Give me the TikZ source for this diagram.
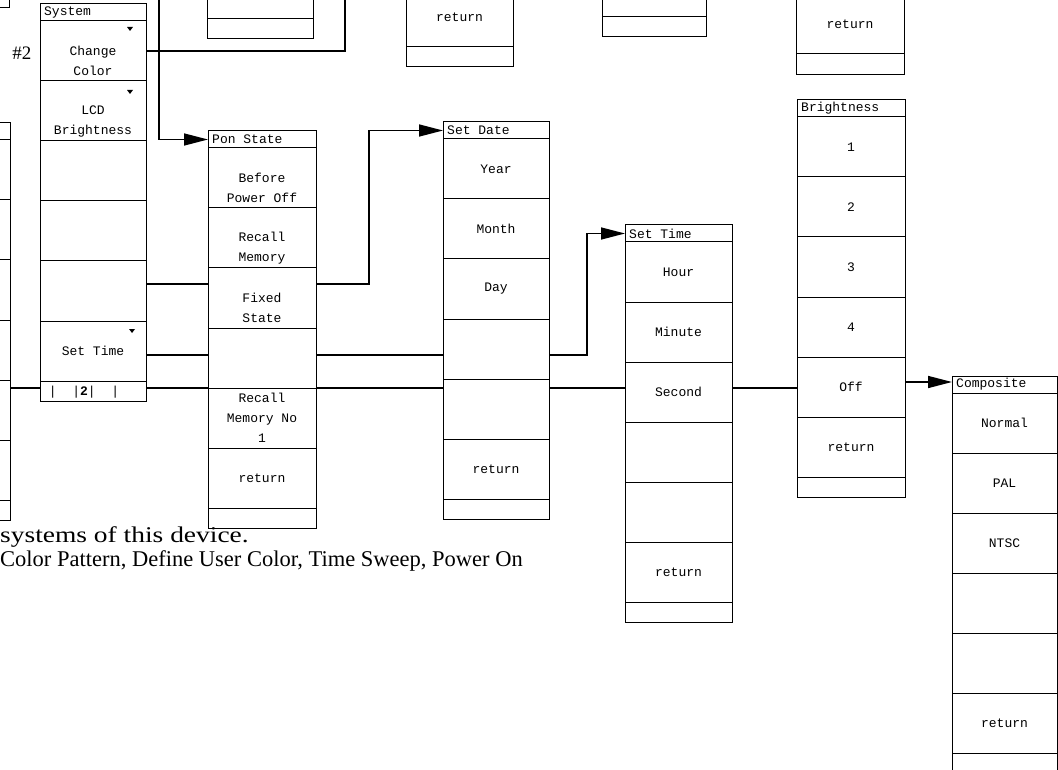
\documentclass[tikz,border=0pt]{standalone}
\usepackage{fontspec}
\usepackage{graphicx}
\setmainfont{Liberation Serif}
\setmonofont{Liberation Mono}
\usetikzlibrary{arrows.meta}
\newcommand\mfont{\fontsize{13}{20}\selectfont\ttfamily}
\tikzset{
  box/.style={draw, line width=1pt, inner sep=0pt, outer sep=0pt, anchor=north west},
  cell/.style={box, minimum width=#1, minimum height=60pt},
  foot/.style={box, minimum width=#1, minimum height=20pt},
  rt/.style={font=\mfont, align=center, inner sep=0pt},
  conn/.style={line width=1.5pt},
  arr/.style={line width=1.5pt, -{Triangle[length=24pt,width=12pt]}},
}
\newcommand\menucol[5]{%
  \node[box, minimum width=#4pt, minimum height=17pt] (#1-t) at (#2,#3) {};
  \node[rt, anchor=west] (#1-tt) at ([xshift=4pt]#1-t.west) {#5};
  \foreach \i in {1,...,6} {
    \node[cell=#4pt] (#1-r\i) at (#2,#3+17+60*\i-60) {};
  }
  \node[foot=#4pt] (#1-f) at (#2,#3+377) {};
}
\begin{document}
\begin{tikzpicture}[x=1pt,y=-1pt]
\useasboundingbox (0,0) rectangle (1058,770);
\begin{scope}
\clip (0,0) rectangle (1058,770);
% partial boxes at the top
\node[box, minimum width=60pt, minimum height=20pt] (tl) at (-51,-12) {};
\node[cell=106pt] (ta-r) at (207,-41) {};
\node[foot=106pt] (ta-f) at (207,19) {};
\node[cell=107pt] (tb-r) at (406,-13) {};
\node[rt] at (tb-r.center) {return};
\node[foot=107pt] (tb-f) at (406,47) {};
\node[cell=104pt] (tc-r) at (602,-43) {};
\node[foot=104pt] (tc-f) at (602,17) {};
\node[cell=108pt] (td-r) at (796,-6) {};
\node[rt] at (td-r.center) {return};
\node[foot=108pt, minimum height=21pt] (td-f) at (796,54) {};

% menu columns
\menucol{lc}{-98}{123}{108}{}
\menucol{sys}{40}{4}{106}{System}
\menucol{ps}{208}{131}{108}{Pon State}
\menucol{sd}{443}{122}{106}{Set Date}
\menucol{st}{625}{225}{107}{Set Time}
\menucol{br}{797}{100}{108}{Brightness}
\menucol{cp}{952}{376}{105}{Composite}

% System texts
\node[rt] at ([yshift=-10pt]sys-r1.center) {Change\\Color};
\node[rt] at ([yshift=-10pt]sys-r2.center) {LCD\\Brightness};
\node[rt] at (sys-r6.center) {Set Time};
\node[rt] at (84,392) {|\ \ |\textbf{2}|\ \ |};
\fill (127,27) -- (133,27) -- (130,31) -- cycle;
\fill (127,90) -- (133,90) -- (130,94) -- cycle;
\fill (129,329) -- (135,329) -- (132,333) -- cycle;
\node[font=\fontsize{19}{20}\selectfont, inner sep=0pt] (lbl2) at (22,53) {\#2};

% Pon State texts
\node[rt] at ([yshift=-10pt]ps-r1.center) {Before\\Power Off};
\node[rt] at ([yshift=-10pt]ps-r2.center) {Recall\\Memory};
\node[rt] at ([yshift=-10pt]ps-r3.center) {Fixed\\State};
\node[rt] at (ps-r5.center) {Recall\\Memory No\\1};
\node[rt] at (ps-r6.center) {return};

% Set Date texts
\node[rt] at (sd-r1.center) {Year};
\node[rt] at (sd-r2.center) {Month};
\node[rt] at (sd-r3.center) {Day};
\node[rt] at (sd-r6.center) {return};

% Set Time texts
\node[rt] at (st-r1.center) {Hour};
\node[rt] at (st-r2.center) {Minute};
\node[rt] at (st-r3.center) {Second};
\node[rt] at (st-r6.center) {return};

% Brightness texts
\node[rt] at (br-r1.center) {1};
\node[rt] at (br-r2.center) {2};
\node[rt] at (br-r3.center) {3};
\node[rt] at (br-r4.center) {4};
\node[rt] at (br-r5.center) {Off};
\node[rt] at (br-r6.center) {return};

% Composite texts
\node[rt] at (cp-r1.center) {Normal};
\node[rt] at (cp-r2.center) {PAL};
\node[rt] at (cp-r3.center) {NTSC};
\node[rt] at (cp-r6.center) {return};

% helper coordinates
\coordinate (upA) at (345,-5);
\coordinate (upB) at (159,-5);
\coordinate (bendA) at (369,0);
\coordinate (bendB) at (587,0);
\coordinate (y284) at (0,284);
\coordinate (y355) at (0,355);
\coordinate (y388) at (0,388);
\coordinate (y382) at (0,382);

% connectors
\draw[conn] (sys-r1.east) -| (upA);
\draw[arr] (upB) |- (ps-t.west);
\draw[conn] (sys-r5.east |- y284) -- (ps-r3.west |- y284);
\draw[arr] (ps-r3.east |- y284) -| (bendA |- sd-t.west) -- (sd-t.west);
\draw[conn] (sys-r6.east |- y355) -- (ps-r4.west |- y355);
\draw[conn] (ps-r4.east |- y355) -- (sd-r4.west |- y355);
\draw[arr] (sd-r4.east |- y355) -| (bendB |- st-t.west) -- (st-t.west);
\draw[conn] (lc-r5.east |- y388) -- (sys-f.west |- y388);
\draw[conn] (sys-f.east |- y388) -- (ps-r5.west |- y388);
\draw[conn] (ps-r5.east |- y388) -- (sd-r5.west |- y388);
\draw[conn] (sd-r5.east |- y388) -- (st-r3.west |- y388);
\draw[conn] (st-r3.east |- y388) -- (br-r5.west |- y388);
\draw[arr] (br-r5.east |- y382) -- (cp-t.west |- y382);

% text below
\node[anchor=base west, inner sep=0pt, font=\fontsize{22.5}{24}\selectfont] (tx1) at (0,542) {\scalebox{1.22}[1]{systems of this device.}};
\node[anchor=base west, inner sep=0pt, font=\fontsize{22.5}{24}\selectfont] (tx2) at (0,566) {Color Pattern, Define User Color, Time Sweep, Power On};
\end{scope}
\end{tikzpicture}
\end{document}
